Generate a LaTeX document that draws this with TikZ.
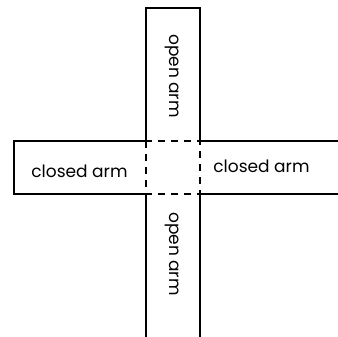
\documentclass[tikz,border=0pt]{standalone}
\usepackage{fontspec}
\setmainfont{Poppins}
\usetikzlibrary{positioning}

\begin{document}
\begin{tikzpicture}[
  x=1pt, y=-1pt,
  every node/.style={font=\fontsize{17}{19}\selectfont},
  wall/.style={line width=1.4pt},
  gap/.style={line width=1.4pt, dash pattern=on 7pt off 6pt},
  armlabel/.style={inner sep=0pt},
]
\useasboundingbox (0,0) rectangle (338,337);

% centre square
\coordinate (nw) at (146,141);
\coordinate (ne) at (200,141);
\coordinate (sw) at (146,194);
\coordinate (se) at (200,194);

% open arms (top and bottom)
\draw[wall] (nw) -- (146,8) -- (200,8) -- (ne);
\draw[wall] (sw) -- (146,337);
\draw[wall] (se) -- (200,337);

% closed arms (left and right)
\draw[wall] (nw) -- (14,141) -- (14,194) -- (sw);
\draw[wall] (ne) -- (338,141);
\draw[wall] (se) -- (338,194);

\draw[gap] (nw) rectangle (se);

\node[armlabel, rotate=-90] (opentop) at (172,76) {open arm};
\node[armlabel, rotate=-90] (openbot) at (172,254) {open arm};
\node[armlabel] (closedl) at (79.5,171) {closed arm};
\node[armlabel] (closedr) at (261.5,166) {closed arm};
\end{tikzpicture}
\end{document}
